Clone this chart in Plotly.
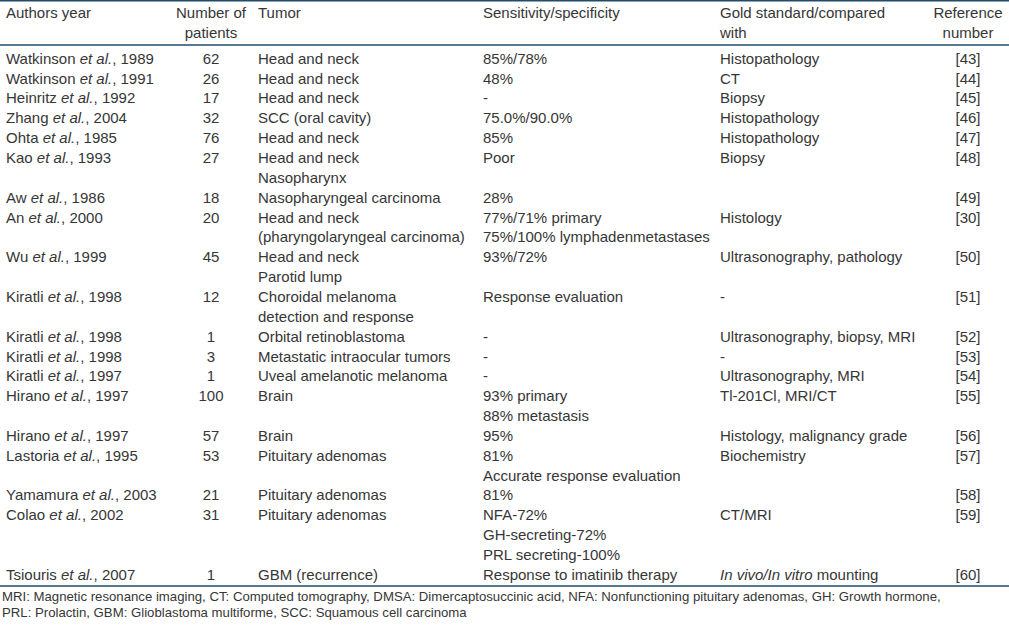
import plotly.graph_objects as go

# ---------------- data ----------------
headers = ["Authors year", "Number of|patients", "Tumor", "Sensitivity/specificity",
           "Gold standard/compared|with", "Reference|number"]

authors = [
    "Watkinson <i>et al.</i>, 1989", "Watkinson <i>et al.</i>, 1991", "Heinritz <i>et al.</i>, 1992",
    "Zhang <i>et al.</i>, 2004", "Ohta <i>et al.</i>, 1985", "Kao <i>et al.</i>, 1993",
    "Aw <i>et al.</i>, 1986", "An <i>et al.</i>, 2000", "Wu <i>et al.</i>, 1999",
    "Kiratli <i>et al.</i>, 1998", "Kiratli <i>et al.</i>, 1998", "Kiratli <i>et al.</i>, 1998",
    "Kiratli <i>et al.</i>, 1997", "Hirano <i>et al.</i>, 1997", "Hirano <i>et al.</i>, 1997",
    "Lastoria <i>et al.</i>, 1995", "Yamamura <i>et al.</i>, 2003", "Colao <i>et al.</i>, 2002",
    "Tsiouris <i>et al.</i>, 2007",
]
patients = [62, 26, 17, 32, 76, 27, 18, 20, 45, 12, 1, 3, 1, 100, 57, 53, 21, 31, 1]
tumor = [
    "Head and neck", "Head and neck", "Head and neck", "SCC (oral cavity)", "Head and neck",
    "Head and neck|Nasopharynx", "Nasopharyngeal carcinoma",
    "Head and neck|(pharyngolaryngeal carcinoma)", "Head and neck|Parotid lump",
    "Choroidal melanoma|detection and response", "Orbital retinoblastoma",
    "Metastatic intraocular tumors", "Uveal amelanotic melanoma", "Brain", "Brain",
    "Pituitary adenomas", "Pituitary adenomas", "Pituitary adenomas", "GBM (recurrence)",
]
sensitivity = [
    "85%/78%", "48%", "-", "75.0%/90.0%", "85%", "Poor", "28%",
    "77%/71% primary|75%/100% lymphadenmetastases", "93%/72%", "Response evaluation",
    "-", "-", "-", "93% primary|88% metastasis", "95%", "81%|Accurate response evaluation",
    "81%", "NFA-72%|GH-secreting-72%|PRL secreting-100%", "Response to imatinib therapy",
]
gold = [
    "Histopathology", "CT", "Biopsy", "Histopathology", "Histopathology", "Biopsy", "",
    "Histology", "Ultrasonography, pathology", "-", "Ultrasonography, biopsy, MRI", "-",
    "Ultrasonography, MRI", "Tl-201Cl, MRI/CT", "Histology, malignancy grade", "Biochemistry",
    "", "CT/MRI", "<i>In vivo/In vitro</i> mounting",
]
reference = [43, 44, 45, 46, 47, 48, 49, 30, 50, 51, 52, 53, 54, 55, 56, 57, 58, 59, 60]

footnotes = [
    "MRI: Magnetic resonance imaging, CT: Computed tomography, DMSA: Dimercaptosuccinic acid, "
    "NFA: Nonfunctioning pituitary adenomas, GH: Growth hormone,",
    "PRL: Prolactin, GBM: Glioblastoma multiforme, SCC: Squamous cell carcinoma",
]

# ---------------- layout constants ----------------
W, H = 1009, 627
FONT = "Liberation Sans, Arial, sans-serif"
TXT = "#363636"
RULE = "#1f4d6b"
BODY = 15
FOOT = 13.2

col_x = [6, 211, 258, 483, 720, 968]
col_pos = ["middle right", "middle center", "middle right", "middle right", "middle right", "middle center"]

header_y0, header_pitch = 14, 20
row_y0, pitch = 60, 19.85
top_rule, header_rule, bottom_rule = 0.8, 45, 586
foot_x = 2
foot_y = [598, 614]

columns = [authors, [str(p) for p in patients], tumor, sensitivity, gold,
           ["[%d]" % r for r in reference]]

fig = go.Figure()

# header
for ci, h in enumerate(headers):
    parts = h.split("|")
    fig.add_trace(go.Scatter(
        x=[col_x[ci]] * len(parts),
        y=[header_y0 + k * header_pitch for k in range(len(parts))],
        text=parts, mode="text", textposition=col_pos[ci],
        textfont=dict(family=FONT, size=BODY, color=TXT),
        hoverinfo="skip", showlegend=False, cliponaxis=False))

# body rows
row_lines = [max(len(str(c[r]).split("|")) for c in columns) for r in range(len(authors))]
row_start = []
acc = 0
for n in row_lines:
    row_start.append(acc)
    acc += n

for ci, col in enumerate(columns):
    xs, ys, ts = [], [], []
    for r, cell in enumerate(col):
        for k, part in enumerate(str(cell).split("|")):
            if part == "":
                continue
            xs.append(col_x[ci])
            ys.append(row_y0 + (row_start[r] + k) * pitch)
            ts.append(part)
    fig.add_trace(go.Scatter(
        x=xs, y=ys, text=ts, mode="text", textposition=col_pos[ci],
        textfont=dict(family=FONT, size=BODY, color=TXT),
        hoverinfo="skip", showlegend=False, cliponaxis=False))

# footnotes
fig.add_trace(go.Scatter(
    x=[foot_x] * len(footnotes), y=foot_y, text=footnotes, mode="text",
    textposition="middle right",
    textfont=dict(family=FONT, size=FOOT, color=TXT),
    hoverinfo="skip", showlegend=False, cliponaxis=False))

shapes = []
for yy in (top_rule, header_rule, bottom_rule):
    shapes.append(dict(type="line", xref="paper", yref="y", x0=0, x1=1, y0=yy, y1=yy,
                       line=dict(color=RULE, width=1.6)))

fig.update_layout(
    width=W, height=H, margin=dict(l=0, r=0, t=0, b=0),
    paper_bgcolor="white", plot_bgcolor="white",
    xaxis=dict(range=[0, W], visible=False, fixedrange=True),
    yaxis=dict(range=[H, 0], visible=False, fixedrange=True),
    shapes=shapes,
)

fig.write_html(
    "out.html",
    config={"displayModeBar": False},
    post_script="document.body.style.margin='0';document.documentElement.style.overflow='hidden';",
)
